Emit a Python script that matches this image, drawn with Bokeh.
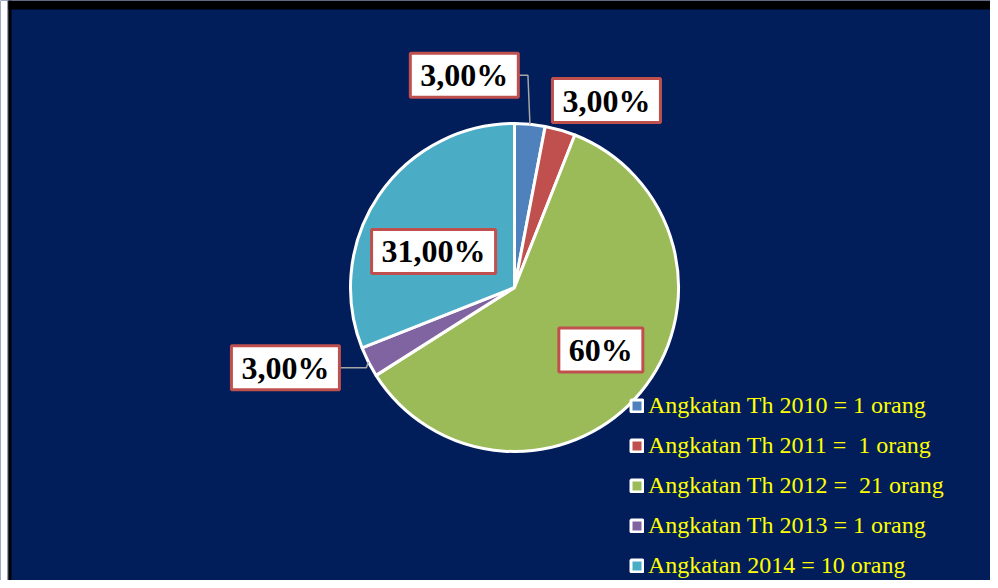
import numpy as np
from bokeh.plotting import figure
from bokeh.models import ColumnDataSource, Label, Legend, LegendItem, Range1d, BoxAnnotation
from bokeh.embed import file_html
from bokeh.resources import INLINE

# ---- data ----
categories = [
    "Angkatan Th 2010 = 1 orang",
    "Angkatan Th 2011 =  1 orang",
    "Angkatan Th 2012 =  21 orang",
    "Angkatan Th 2013 = 1 orang",
    "Angkatan 2014 = 10 orang",
]
percent_values = [3, 3, 60, 3, 31]
percent_labels = ["3,00%", "3,00%", "60%", "3,00%", "31,00%"]
colors = ["#4F81BD", "#C0504D", "#9BBB59", "#8064A2", "#4BACC6"]

# ---- layout / style (not data) ----
W, H = 990, 580
cx, cy = 514, H - 287      # pie centre (frame units, 1 unit = 1 px)
R = 164                    # pie radius
label_rad = [1.33, 1.27, 0.65, 1.48, 0.54]
label_ang_off = [18.7, -10.0, 3.7, -7.7, 10.2]
leader = [True, False, False, True, False]
box_half_w = 53

vals = np.array(percent_values, dtype=float)
frac = vals / vals.sum()
cum = np.concatenate([[0], np.cumsum(frac)])
start = np.pi / 2 - 2 * np.pi * cum[:-1]
end = np.pi / 2 - 2 * np.pi * cum[1:]
mid = (start + end) / 2

src = ColumnDataSource(dict(start=start, end=end, color=colors, cat=categories))

p = figure(width=W, height=H, output_backend="svg", toolbar_location=None,
           x_range=Range1d(0, W), y_range=Range1d(0, H), min_border=0)
p.axis.visible = False
p.grid.visible = False
p.outline_line_color = None
p.background_fill_color = "#011E5B"
p.border_fill_color = "#011E5B"

# slide frame edges (top/left)
p.add_layout(BoxAnnotation(left=0, right=7, fill_color="white", fill_alpha=1, line_alpha=0))
p.add_layout(BoxAnnotation(left=7, right=8, fill_color="#B0B0B0", fill_alpha=1, line_alpha=0))
p.add_layout(BoxAnnotation(left=8, right=11, fill_color="black", fill_alpha=1, line_alpha=0))
p.add_layout(BoxAnnotation(left=8, bottom=H - 9, fill_color="black", fill_alpha=1, line_alpha=0))

wr = p.wedge(x=cx, y=cy, radius=R, start_angle="start", end_angle="end",
             direction="clock", fill_color="color", line_color="white",
             line_width=3, source=src)

# leader lines
for i in range(len(vals)):
    if not leader[i]:
        continue
    a = mid[i] + np.deg2rad(label_ang_off[i])
    lx = cx + R * label_rad[i] * np.cos(a)
    ly = cy + R * label_rad[i] * np.sin(a)
    ex = cx + R * np.cos(mid[i])
    ey = cy + R * np.sin(mid[i])
    bx = lx + box_half_w
    if ex > bx + 5:
        xs = [bx, ex - 2, ex]
        ys = [ly, ly, ey]
    else:
        xs = [bx, bx + 12, ex]
        ys = [ly, ly, ey]
    p.line(xs, ys, line_color="#A6A6A6", line_width=1.5)

# data labels
for i in range(len(vals)):
    a = mid[i] + np.deg2rad(label_ang_off[i])
    lx = cx + R * label_rad[i] * np.cos(a)
    ly = cy + R * label_rad[i] * np.sin(a)
    p.add_layout(Label(x=lx, y=ly, text=percent_labels[i], text_align="center",
                       text_baseline="middle", text_font="Liberation Serif",
                       text_font_style="bold", text_font_size="32px", text_color="black",
                       background_fill_color="white", border_line_color="#C0504D",
                       border_line_width=3, padding=(10, 4)))

items = [LegendItem(label=categories[i], renderers=[wr], index=i) for i in range(len(vals))]
legend = Legend(items=items, location=(629, 1), background_fill_alpha=0,
                border_line_alpha=0, label_text_color="#FFFF00",
                label_text_font="Liberation Serif", label_text_font_size="24px",
                glyph_width=15, glyph_height=15, label_standoff=4, spacing=13,
                label_height=27, padding=0, margin=0)
p.add_layout(legend)

open("out.html", "w").write(file_html(p, INLINE))
